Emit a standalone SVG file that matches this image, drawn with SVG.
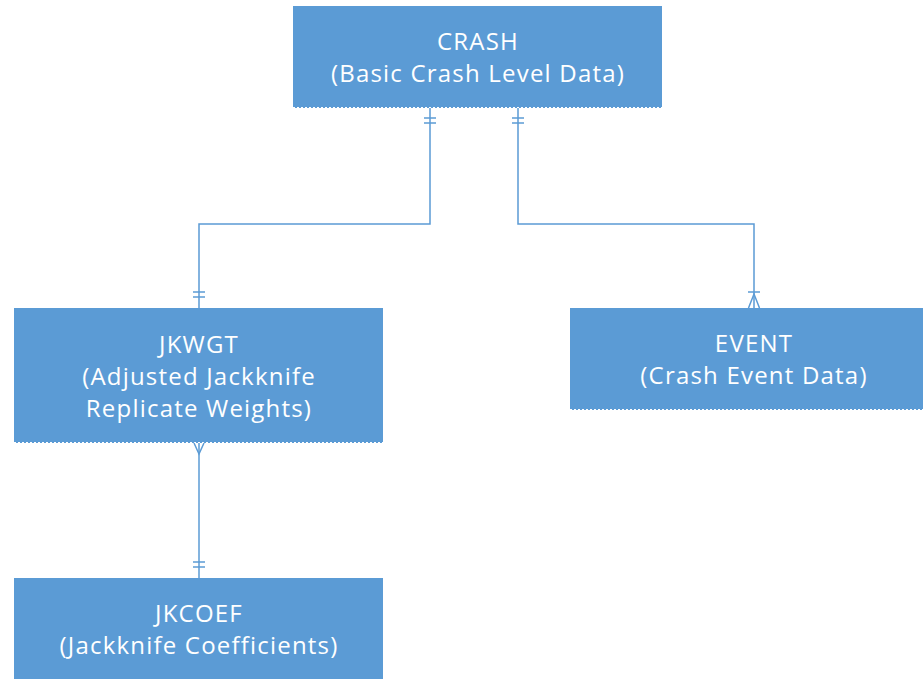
<svg xmlns="http://www.w3.org/2000/svg" width="923" height="679" viewBox="0 0 923 679">
  <style>
    .box { fill: #5B9BD5; }
    .edge { stroke: #FFFFFF; stroke-width: 1; stroke-dasharray: 2 2; fill: none; }
    .lbl { fill: #FFFFFF; font-family: "Open Sans", "Noto Sans", "DejaVu Sans", sans-serif; font-size: 24px; text-anchor: middle; letter-spacing: 1.2px; }
    .conn { stroke: #5B9BD5; stroke-width: 1.5; fill: none; }
  </style>
  <rect width="923" height="679" fill="#FFFFFF"/>

  <g id="crash">
    <rect class="box" x="293" y="6" width="369" height="102"/>
    <line class="edge" x1="293" y1="107.5" x2="662" y2="107.5"/>
    <text class="lbl" x="478" y="50">CRASH</text>
    <text class="lbl" x="478" y="82">(Basic Crash Level Data)</text>
  </g>

  <g id="jkwgt">
    <rect class="box" x="14" y="308" width="369" height="135"/>
    <line class="edge" x1="14" y1="442.5" x2="383" y2="442.5"/>
    <text class="lbl" x="199" y="353">JKWGT</text>
    <text class="lbl" x="199" y="385">(Adjusted Jackknife</text>
    <text class="lbl" x="199" y="417">Replicate Weights)</text>
  </g>

  <g id="event">
    <rect class="box" x="570" y="308" width="369" height="102"/>
    <line class="edge" x1="570" y1="409.5" x2="939" y2="409.5"/>
    <text class="lbl" x="754" y="352">EVENT</text>
    <text class="lbl" x="754" y="384">(Crash Event Data)</text>
  </g>

  <g id="jkcoef">
    <rect class="box" x="14" y="578" width="369" height="110"/>
    <text class="lbl" x="199" y="622">JKCOEF</text>
    <text class="lbl" x="199" y="654">(Jackknife Coefficients)</text>
  </g>

  <g id="connectors">
    <!-- CRASH to JKWGT: one and only one on both ends -->
    <polyline class="conn" points="430,108 430,224 199,224 199,308"/>
    <line class="conn" x1="424" y1="118" x2="436" y2="118"/>
    <line class="conn" x1="424" y1="123" x2="436" y2="123"/>
    <line class="conn" x1="193" y1="292" x2="205" y2="292"/>
    <line class="conn" x1="193" y1="297" x2="205" y2="297"/>

    <!-- CRASH to EVENT: one to one-or-many -->
    <polyline class="conn" points="518,108 518,224 754,224 754,308"/>
    <line class="conn" x1="512" y1="118" x2="524" y2="118"/>
    <line class="conn" x1="512" y1="123" x2="524" y2="123"/>
    <line class="conn" x1="748" y1="292" x2="760" y2="292"/>
    <polyline class="conn" points="748.5,308 754,294 759.5,308"/>

    <!-- JKWGT to JKCOEF: many to one -->
    <line class="conn" x1="199" y1="443" x2="199" y2="578"/>
    <polyline class="conn" points="194,443 199,454 204,443"/>
    <line class="conn" x1="193" y1="562" x2="205" y2="562"/>
    <line class="conn" x1="193" y1="567" x2="205" y2="567"/>
  </g>
</svg>
